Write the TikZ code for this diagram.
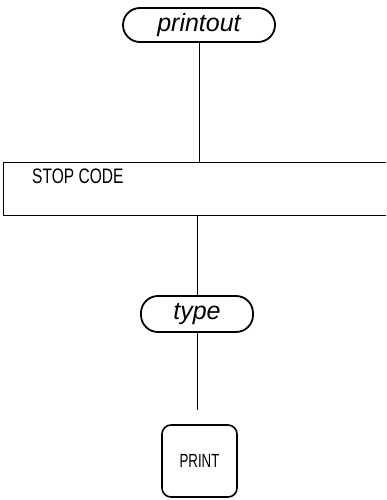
\documentclass[tikz,border=0pt]{standalone}
\usepackage{fontspec}
\setmainfont{Liberation Sans}
\begin{document}
\begin{tikzpicture}[x=1pt, y=-1pt]
% Stili per i blocchi del diagramma
\tikzset{pill/.style={draw, line width=1.8pt, rounded corners=17pt, inner sep=0pt, font=\fontsize{25}{25}\selectfont\itshape},
         key/.style={draw, line width=1.6pt, rounded corners=9pt, minimum width=75pt, minimum height=72pt, inner sep=0pt},
         wire/.style={line width=0.9pt}}

% Area della figura
\useasboundingbox (0,0) rectangle (386,500);

% --- BLOCCHI ---
\node[pill, minimum width=152pt, minimum height=34pt] (printout) at (199,25) {printout};
\node[inner sep=0pt, minimum width=382pt, minimum height=52pt] (stopbox) at (195,189) {};
\node[anchor=west, inner sep=0pt, font=\fontsize{21}{21}\selectfont] (stopcode) at (32,176) {\scalebox{0.74}[1]{STOP CODE}};
\node[pill, minimum width=112pt, minimum height=36pt] (type) at (197,314) {type};
\node[key, font=\fontsize{19}{19}\selectfont] (print) at (199.5,461) {\scalebox{0.7}[1]{PRINT}};

% Riquadro aperto a destra
\draw[line width=1pt] (stopbox.north east) -- (stopbox.north west) -- (stopbox.south west) -- (stopbox.south east);

% Estremo libero della linea sopra il tasto
\coordinate (tail) at (197,410);

% --- COLLEGAMENTI ---
\draw[wire] (printout.south) -- (printout.south |- stopbox.north);
\draw[wire] (type.north |- stopbox.south) -- (type.north);
\draw[wire] (type.south) -- (tail);

\end{tikzpicture}
\end{document}
